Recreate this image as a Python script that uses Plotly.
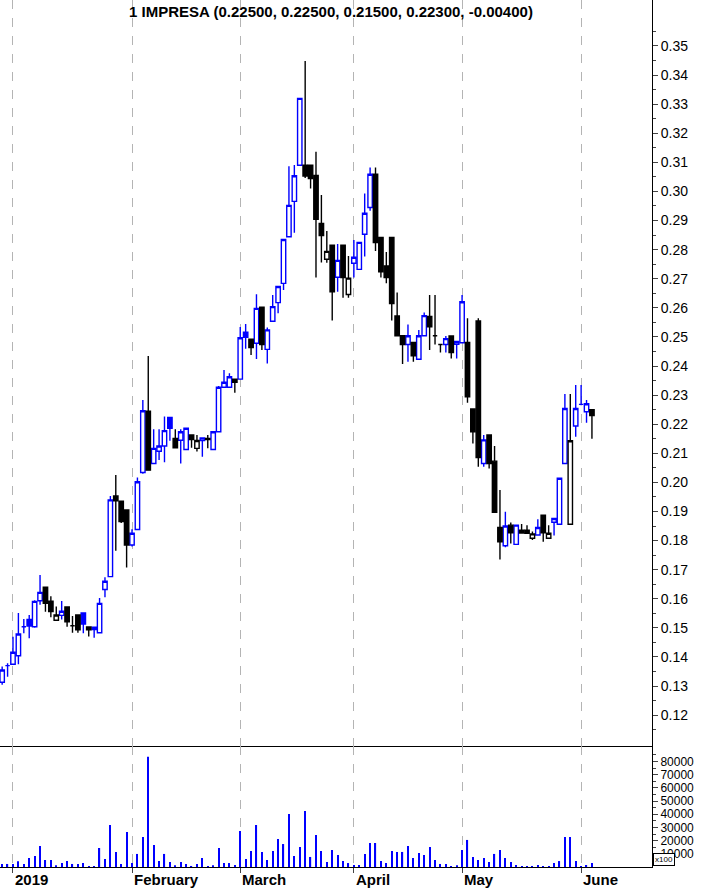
import plotly.graph_objects as go

title_text = "1 IMPRESA (0.22500, 0.22500, 0.21500, 0.22300, -0.00400)"

opens = [0.1313, 0.1370, 0.1375, 0.1404, 0.1504, 0.1529, 0.1504, 0.1593, 0.1640, 0.1592,
         0.1526, 0.1543, 0.1572, 0.1507, 0.1544, 0.1551, 0.1503, 0.1494, 0.1483, 0.1632,
         0.1676, 0.1953, 0.1935, 0.1905, 0.1785, 0.1838, 0.2034, 0.2245, 0.2065, 0.2107,
         0.2125, 0.2223, 0.2151, 0.2145, 0.2113, 0.2163, 0.2117, 0.2144, 0.2151, 0.2113,
         0.2174, 0.2327, 0.2327, 0.2355, 0.2355, 0.2516, 0.2492, 0.2478, 0.2602, 0.2457,
         0.2554, 0.2618, 0.2684, 0.2844, 0.2966, 0.3090, 0.3090, 0.3090, 0.3055, 0.2890,
         0.2767, 0.2815, 0.2705, 0.2815, 0.2646, 0.2753, 0.2732, 0.2853, 0.2945, 0.3059,
         0.2842, 0.2744, 0.2842, 0.2572, 0.2504, 0.2474, 0.2481, 0.2423, 0.2504, 0.2570,
         0.2504, 0.2474, 0.2474, 0.2503, 0.2475, 0.2480, 0.2481, 0.2252, 0.2555, 0.2065,
         0.2163, 0.2073, 0.1845, 0.1782, 0.1853, 0.1787, 0.1836, 0.1836, 0.1808, 0.1819,
         0.1887, 0.1808, 0.1863, 0.1856, 0.2065, 0.1856, 0.2194, 0.2268, 0.2243, 0.2250]
highs = [0.1367, 0.1378, 0.1469, 0.1551, 0.1530, 0.1544, 0.1595, 0.1682, 0.1642, 0.1609,
         0.1573, 0.1592, 0.1574, 0.1541, 0.1546, 0.1553, 0.1505, 0.1504, 0.1603, 0.1674,
         0.1953, 0.2025, 0.1938, 0.1907, 0.1839, 0.2017, 0.2283, 0.2434, 0.2183, 0.2183,
         0.2226, 0.2225, 0.2183, 0.2183, 0.2188, 0.2165, 0.2163, 0.2155, 0.2163, 0.2176,
         0.2331, 0.2386, 0.2375, 0.2357, 0.2534, 0.2544, 0.2494, 0.2647, 0.2604, 0.2532,
         0.2644, 0.2675, 0.2837, 0.3087, 0.3091, 0.3322, 0.3448, 0.3092, 0.3136, 0.2988,
         0.2864, 0.2817, 0.2819, 0.2817, 0.2778, 0.2833, 0.2827, 0.2993, 0.3082, 0.3082,
         0.2844, 0.2792, 0.2844, 0.2653, 0.2506, 0.2543, 0.2483, 0.2524, 0.2584, 0.2644,
         0.2644, 0.2476, 0.2503, 0.2505, 0.2486, 0.2644, 0.2564, 0.2254, 0.2564, 0.2163,
         0.2165, 0.2125, 0.1974, 0.1899, 0.1862, 0.1855, 0.1857, 0.1853, 0.1831, 0.1873,
         0.1889, 0.1853, 0.1876, 0.2016, 0.2304, 0.2304, 0.2335, 0.2335, 0.2283, 0.2250]
lows = [0.1304, 0.1332, 0.1372, 0.1375, 0.1481, 0.1464, 0.1500, 0.1579, 0.1555, 0.1536,
        0.1526, 0.1529, 0.1504, 0.1483, 0.1483, 0.1481, 0.1470, 0.1466, 0.1483, 0.1605,
        0.1676, 0.1765, 0.1860, 0.1707, 0.1780, 0.1836, 0.2030, 0.2040, 0.2063, 0.2077,
        0.2069, 0.2143, 0.2117, 0.2065, 0.2111, 0.2119, 0.2106, 0.2088, 0.2117, 0.2111,
        0.2172, 0.2325, 0.2325, 0.2308, 0.2353, 0.2459, 0.2438, 0.2424, 0.2455, 0.2409,
        0.2552, 0.2581, 0.2661, 0.2842, 0.2858, 0.3088, 0.3046, 0.3010, 0.2704, 0.2756,
        0.2755, 0.2556, 0.2655, 0.2635, 0.2635, 0.2704, 0.2730, 0.2776, 0.2934, 0.2795,
        0.2704, 0.2684, 0.2556, 0.2502, 0.2407, 0.2415, 0.2415, 0.2421, 0.2502, 0.2455,
        0.2474, 0.2446, 0.2446, 0.2426, 0.2426, 0.2478, 0.2274, 0.2134, 0.2054, 0.2054,
        0.2048, 0.1895, 0.1735, 0.1777, 0.1790, 0.1785, 0.1823, 0.1823, 0.1802, 0.1817,
        0.1796, 0.1806, 0.1817, 0.1854, 0.2063, 0.1854, 0.2157, 0.2265, 0.2205, 0.2150]
closes = [0.1355, 0.1370, 0.1416, 0.1479, 0.1504, 0.1506, 0.1591, 0.1622, 0.1584, 0.1556,
          0.1544, 0.1557, 0.1521, 0.1507, 0.1493, 0.1513, 0.1493, 0.1502, 0.1584, 0.1660,
          0.1940, 0.1937, 0.1865, 0.1785, 0.1825, 0.2002, 0.2246, 0.2042, 0.2117, 0.2125,
          0.2178, 0.2186, 0.2119, 0.2174, 0.2186, 0.2147, 0.2144, 0.2153, 0.2147, 0.2174,
          0.2327, 0.2344, 0.2363, 0.2344, 0.2497, 0.2499, 0.2463, 0.2598, 0.2474, 0.2524,
          0.2604, 0.2673, 0.2835, 0.2952, 0.3054, 0.3320, 0.3053, 0.3044, 0.2904, 0.2848,
          0.2794, 0.2655, 0.2763, 0.2704, 0.2702, 0.2774, 0.2825, 0.2925, 0.3059, 0.2824,
          0.2724, 0.2704, 0.2615, 0.2504, 0.2474, 0.2504, 0.2435, 0.2504, 0.2573, 0.2535,
          0.2504, 0.2474, 0.2494, 0.2446, 0.2484, 0.2621, 0.2294, 0.2174, 0.2085, 0.2146,
          0.2065, 0.1897, 0.1796, 0.1850, 0.1827, 0.1853, 0.1826, 0.1825, 0.1823, 0.1845,
          0.1827, 0.1825, 0.1876, 0.2014, 0.2254, 0.2143, 0.2254, 0.2268, 0.2270, 0.2230]
volumes = [2300, 2300, 2300, 4300, 2300, 6800, 8300, 15900, 5300, 5300,
           1300, 3000, 4500, 2300, 2300, 3000, 760, 760, 14400, 6000,
           31800, 11400, 2300, 26500, 3000, 9900, 22700, 83600, 16700, 4500,
           9900, 3800, 1300, 3800, 2300, 250, 2300, 6800, 250, 1300,
           14400, 3000, 3000, 1500, 27300, 6000, 12100, 31800, 11400, 5300,
           12100, 21200, 17400, 40200, 8300, 15200, 42500, 7600, 24300, 12100,
           3800, 12900, 9100, 4500, 3000, 1500, 1500, 9900, 18200, 18200,
           4500, 3000, 12100, 11400, 11400, 15900, 6800, 10600, 9100, 15200,
           5300, 2300, 2300, 760, 1300, 12900, 20500, 7600, 5300, 6800,
           3800, 9900, 12900, 6800, 3800, 1500, 760, 760, 760, 1500,
           760, 500, 3000, 4500, 22700, 22700, 4500, 760, 1500, 3000]

month_idx = [2, 24, 44, 65, 85, 107]
month_labels = ["2019", "February", "March", "April", "May", "June"]
price_ticks = [0.12, 0.13, 0.14, 0.15, 0.16, 0.17, 0.18, 0.19, 0.20, 0.21, 0.22, 0.23,
               0.24, 0.25, 0.26, 0.27, 0.28, 0.29, 0.30, 0.31, 0.32, 0.33, 0.34, 0.35]
price_labels = ["%.2f" % v for v in price_ticks]
vol_ticks = [10000, 20000, 30000, 40000, 50000, 60000, 70000, 80000]
vol_labels = [str(v) for v in vol_ticks]

BLUE = "#0000ff"
BLACK = "#000000"
FONT = "Liberation Sans"

n = len(closes)
xs = list(range(n))

groups = {}
for i in range(n):
    prev = closes[i - 1] if i > 0 else opens[i]
    color = BLUE if closes[i] >= prev else BLACK
    filled = closes[i] < opens[i]
    groups.setdefault((color, filled), []).append(i)

fig = go.Figure()
for (color, filled), ids in groups.items():
    style = dict(line=dict(color=color, width=1.4), fillcolor=color if filled else "#ffffff")
    fig.add_trace(go.Candlestick(
        x=[xs[i] for i in ids],
        open=[opens[i] for i in ids],
        high=[highs[i] for i in ids],
        low=[lows[i] for i in ids],
        close=[closes[i] for i in ids],
        increasing=style, decreasing=style,
        whiskerwidth=0, showlegend=False, hoverinfo="skip",
        xaxis="x", yaxis="y"))

fig.add_trace(go.Bar(x=xs, y=volumes, width=0.22, marker=dict(color=BLUE, line=dict(width=0)),
                     showlegend=False, xaxis="x2", yaxis="y2"))

split = 0.1396
xrange = [-0.40, 120.1]
grid = dict(showgrid=True, gridcolor="#b4b4b4", griddash="dash", gridwidth=1)

fig.update_layout(
    width=702, height=890,
    margin=dict(l=0, r=50, t=0, b=23),
    paper_bgcolor="white", plot_bgcolor="white",
    boxgap=0.1, boxgroupgap=0.1,
    font=dict(family=FONT, size=12, color="black"),
    xaxis=dict(domain=[0, 1], range=xrange, anchor="y", tickmode="array", tickvals=month_idx,
               showticklabels=False, ticks="", zeroline=False, showline=True,
               linecolor="black", linewidth=1, rangeslider=dict(visible=False), **grid),
    yaxis=dict(domain=[split, 1], range=[0.1094, 0.3658], side="right", anchor="x",
               tickmode="array", tickvals=price_ticks, ticktext=price_labels,
               ticks="outside", ticklen=5, showline=True, linecolor="black", linewidth=1,
               showgrid=False, zeroline=False, tickfont=dict(size=14),
               minor=dict(ticks="outside", ticklen=3, tickmode="array",
                          tickvals=[v + 0.005 for v in [0.11] + price_ticks])),
    xaxis2=dict(domain=[0, 1], range=xrange, anchor="y2", tickmode="array", tickvals=month_idx,
                showticklabels=False, ticks="outside", ticklen=5, zeroline=False,
                showline=True, linecolor="black", linewidth=1, **grid),
    yaxis2=dict(domain=[0, split], range=[0, 91700], side="right", anchor="x2",
                tickmode="array", tickvals=vol_ticks, ticktext=vol_labels,
                ticks="outside", ticklen=5, showline=True, linecolor="black", linewidth=1,
                showgrid=False, zeroline=False, tickfont=dict(size=12),
                minor=dict(ticks="outside", ticklen=3, tickmode="array",
                           tickvals=[v + 5000 for v in [0] + vol_ticks])),
)

fig.add_annotation(x=0.507, y=1, xref="paper", yref="paper", xanchor="center", yanchor="top",
                   yshift=-1, showarrow=False, text="<b>" + title_text + "</b>",
                   font=dict(family=FONT, size=15, color="black"))

for idx, lab in zip(month_idx, month_labels):
    fig.add_annotation(x=idx, y=0, xref="x2", yref="paper", xanchor="left", yanchor="top",
                       xshift=0, yshift=-2, showarrow=False, text="<b>" + lab + "</b>",
                       font=dict(family=FONT, size=15, color="black"))

fig.add_annotation(x=1, y=0, xref="paper", yref="paper", xanchor="left", yanchor="bottom",
                   xshift=1, yshift=1, showarrow=False, text="x100",
                   font=dict(family=FONT, size=8, color="black"),
                   bordercolor="black", borderwidth=1, borderpad=1, bgcolor="white")

fig.write_html("out.html", config={"displayModeBar": False},
               post_script="document.body.style.margin='0px';")
